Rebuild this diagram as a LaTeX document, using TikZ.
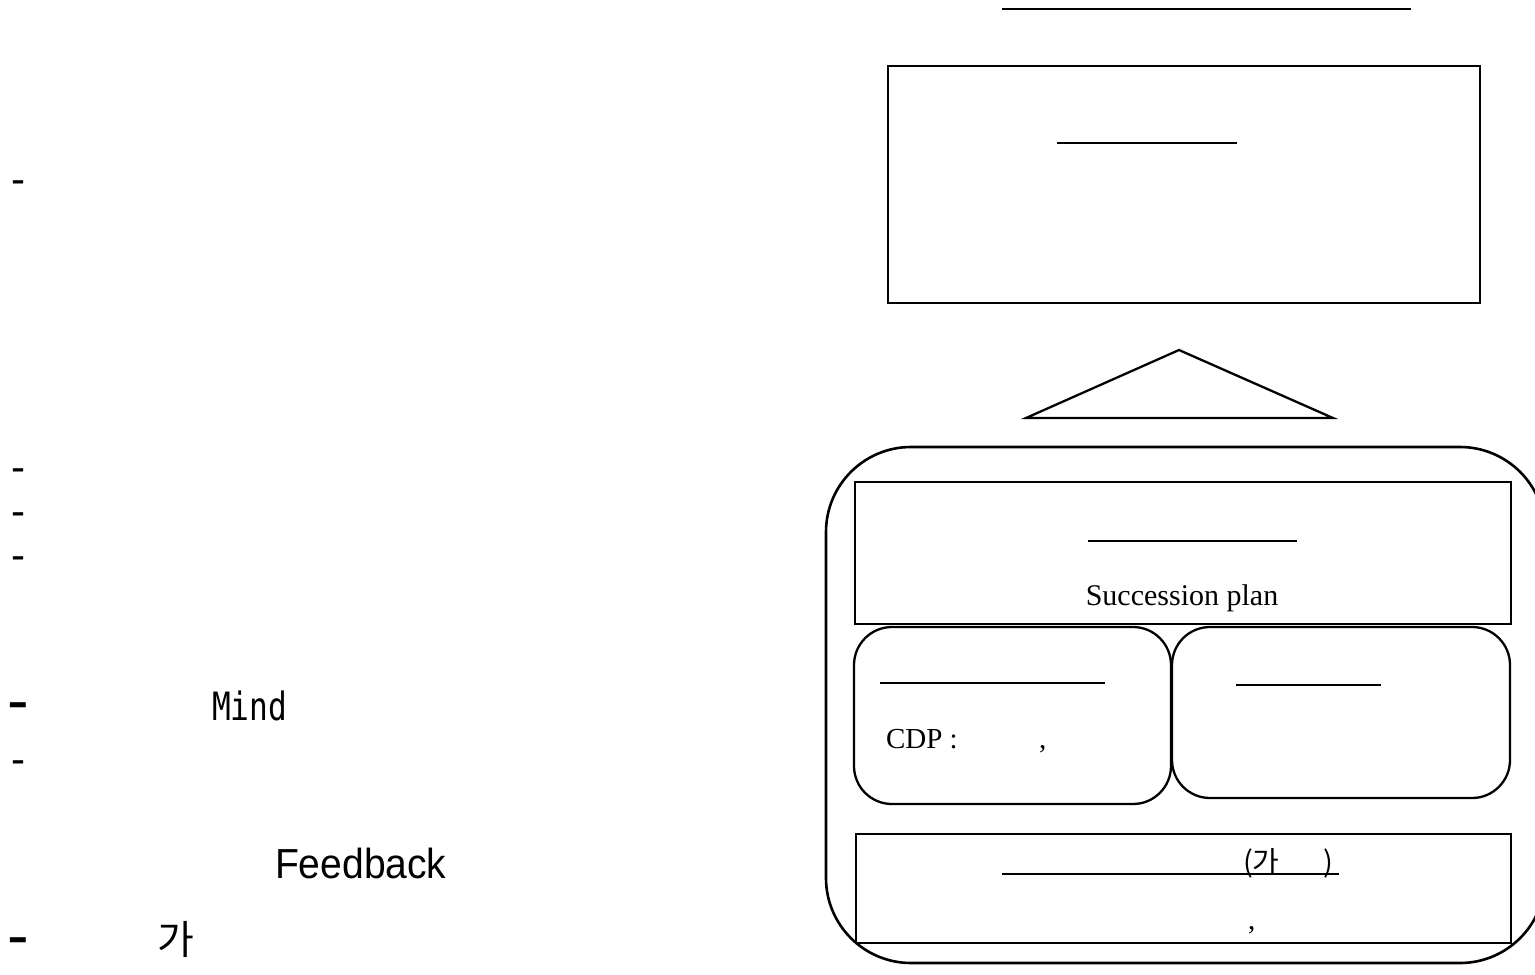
\documentclass[tikz,border=0pt]{standalone}
\usepackage{fontspec}
\setmainfont{Liberation Serif}
\newfontfamily\sansfont{Liberation Sans}
\newfontfamily\widesans[FakeStretch=0.93]{Liberation Sans}
\newfontfamily\monofont[FakeStretch=0.8]{DejaVu Sans Mono}
\newfontfamily\krfont{Noto Sans CJK KR}

\tikzset{
  plainbox/.style={draw, line width=2.3pt, inner sep=0pt, outer sep=0pt},
  roundbox/.style={plainbox, rounded corners=38pt},
  framebox/.style={draw, line width=2.6pt, inner sep=0pt, outer sep=0pt, rounded corners=85pt},
  rule/.style={line width=2.3pt},
  txt/.style={inner sep=0pt, outer sep=0pt, anchor=base west},
  bigdash/.style={txt, font=\sansfont\fontsize{65}{65}\selectfont},
  smalldash/.style={txt, font=\sansfont\fontsize{42}{42}\selectfont},
  serif/.style={txt, font=\fontsize{30}{30}\selectfont},
}

\begin{document}
\begin{tikzpicture}[x=1pt, y=-1pt]
\useasboundingbox (0,0) rectangle (1535,975);
\clip (0,0) rectangle (1535,975);

% ---- left column: bullet list ----
\node[smalldash] (d1) at (11,193) {-};
\node[smalldash] (d2) at (11,481) {-};
\node[smalldash] (d3) at (11,525) {-};
\node[smalldash] (d4) at (11,569) {-};
\node[bigdash]   (d5) at (8,722) {-};
\node[txt, font=\monofont\fontsize{39}{39}\selectfont] (mind) at (212,720) {Mind};
\node[smalldash] (d6) at (11,773) {-};
\node[txt, font=\widesans\fontsize{42}{42}\selectfont] (fb) at (275,878) {Feedback};
\node[bigdash]   (d7) at (8,957) {-};
\node[txt, font=\krfont\fontsize{40}{40}\selectfont] (ga) at (157,954) {가};

% ---- right column: title rule and goal box ----
\coordinate (t1) at (1002,9);
\coordinate (t2) at (1411,9);
\draw[rule] (t1) -- (t2);

\node[plainbox, minimum width=592pt, minimum height=237pt] (goal) at (1184,184.5) {};
\coordinate (g1) at (1057,143);
\coordinate (g2) at (1237,143);
\draw[rule] (g1) -- (g2);

% ---- triangle pointing up to the goal box ----
\coordinate (apex) at (1179,350);
\coordinate (bl) at (1026,418);
\coordinate (br) at (1333,418);
\draw[line width=2.3pt, line join=miter] (apex) -- (br) -- (bl) -- cycle;

% ---- frame holding the components ----
\node[framebox, minimum width=719pt, minimum height=516pt] (frame) at (1185.5,705) {};

\node[plainbox, minimum width=656pt, minimum height=142pt] (succ) at (1183,553) {};
\coordinate (s1) at (1088,541);
\coordinate (s2) at (1297,541);
\draw[rule] (s1) -- (s2);
\node[serif, anchor=base] (succtxt) at (1182,605) {Succession plan};

\node[roundbox, minimum width=317pt, minimum height=177pt] (cdp) at (1012.5,715.5) {};
\coordinate (c1) at (880,683);
\coordinate (c2) at (1105,683);
\draw[rule] (c1) -- (c2);
\node[serif, font=\fontsize{29}{29}\selectfont] (cdptxt) at (886,748) {CDP :};
\node[serif, font=\fontsize{29}{29}\selectfont] (cdpcomma) at (1039,748) {,};

\node[roundbox, minimum width=338pt, minimum height=171pt] (rbox) at (1341,712.5) {};
\coordinate (r1) at (1236,685);
\coordinate (r2) at (1381,685);
\draw[rule] (r1) -- (r2);

\node[plainbox, minimum width=655pt, minimum height=109pt] (bottom) at (1183.5,888.5) {};
\coordinate (b1) at (1002,874);
\coordinate (b2) at (1339,874);
\draw[rule] (b1) -- (b2);
\node[txt, font=\krfont\fontsize{29}{29}\selectfont] (gatxt) at (1243,872) {(가\hspace{44pt})};
\node[serif, font=\fontsize{29}{29}\selectfont] (bcomma) at (1248,929) {,};
\end{tikzpicture}
\end{document}
